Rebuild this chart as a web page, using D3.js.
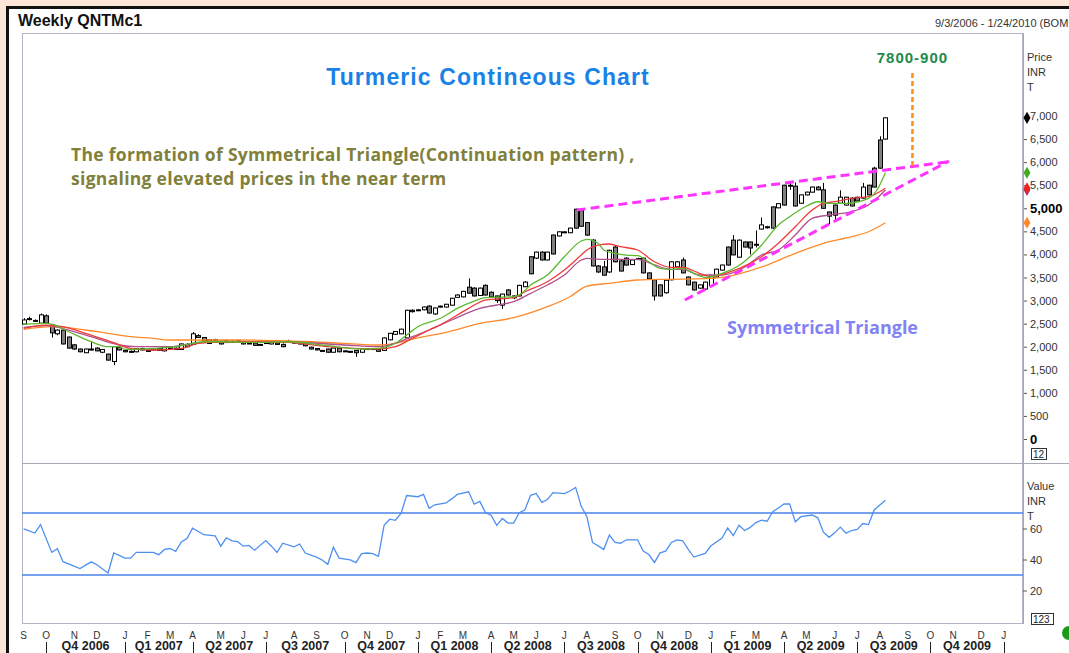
<!DOCTYPE html>
<html>
<head>
<meta charset="utf-8">
<script src="https://cdn.jsdelivr.net/npm/d3@7/dist/d3.min.js"></script>
<style>
  body { margin: 0; background: #fbe6d8; }
  svg { display: block; font-family: "Liberation Sans", Arial, sans-serif; }
</style>
</head>
<body>
<script>
// weekly bars, the first one is the week of 9/3/2006
const firstWeek = new Date(2006, 8, 3)

const opens = [
  2490, 2600, 2560, 2510, 2670, 2470, 2280, 2360, 2210, 2040,
  1950, 1870, 1940, 1970, 1880, 1840, 1680, 1990, 1920, 1900,
  1890, 1960, 1920, 1930, 1960, 1910, 1980, 1970, 1940, 2050,
  2050, 2240, 2200, 2150, 2150, 2120, 2130, 2100, 2100, 2100,
  2070, 2080, 2050, 2080, 2060, 2080, 2050, 2110, 2100, 2080,
  2080, 1990, 1960, 1920, 1950, 1880, 1970, 1910, 1900, 1920,
  1880, 1960, 1960, 1940, 1920, 2150, 2270, 2280, 2190, 2790,
  2790, 2800, 2880, 2710, 2860, 2860, 2900, 3070, 3080, 3290,
  3270, 3110, 3330, 3180, 3100, 2900, 3230, 3100, 3100, 3300,
  3950, 3920, 4050, 3880, 4420, 4400, 4480, 4470, 4980, 4950,
  4690, 4310, 3750, 3730, 3620, 4160, 3860, 3920, 3780, 3910,
  3920, 3600, 3450, 3340, 3170, 3450, 3730, 3880, 3510, 3400,
  3270, 3250, 3320, 3510, 3660, 4160, 4310, 3940, 4270, 4270,
  4200, 4550, 4580, 5030, 5010, 5500, 5500, 5480, 5110, 5290,
  5350, 5460, 5400, 4920, 5070, 5110, 5070, 5220, 5240, 5220,
  5500, 5870, 6480, 6500
]
const highs = [
  2620, 2650, 2590, 2720, 2700, 2480, 2380, 2370, 2220, 2060,
  1960, 1960, 2100, 1990, 1950, 1850, 2010, 2020, 1950, 1920,
  1970, 1980, 1940, 1970, 1970, 1990, 1990, 1980, 2070, 2080,
  2320, 2270, 2210, 2160, 2170, 2130, 2150, 2140, 2140, 2110,
  2090, 2090, 2060, 2100, 2110, 2090, 2070, 2150, 2110, 2090,
  2100, 2000, 1970, 1930, 1960, 1980, 1980, 1920, 1910, 1930,
  1960, 1970, 1970, 1950, 2200, 2300, 2340, 2390, 2800, 2810,
  2820, 2870, 2900, 2850, 2890, 2930, 3060, 3140, 3210, 3480,
  3290, 3280, 3350, 3200, 3110, 3150, 3250, 3110, 3340, 3420,
  3960, 4060, 4070, 4060, 4430, 4500, 4500, 4580, 4990, 4990,
  4700, 4330, 3770, 3860, 4100, 4180, 3880, 3940, 3890, 3930,
  3930, 3610, 3460, 3350, 3460, 3850, 3860, 3930, 3520, 3410,
  3350, 3410, 3540, 3690, 3780, 4170, 4420, 4320, 4280, 4280,
  4520, 4800, 4620, 5040, 5110, 5510, 5550, 5560, 5300, 5360,
  5470, 5480, 5550, 4930, 5080, 5390, 5250, 5240, 5250, 5550,
  5510, 5900, 6560, 6970
]
const lows = [
  2470, 2570, 2540, 2490, 2490, 2200, 2250, 2050, 1960, 1930,
  1880, 1860, 1920, 1900, 1860, 1700, 1600, 1920, 1880, 1870,
  1880, 1920, 1890, 1920, 1910, 1900, 1960, 1930, 1930, 1990,
  2040, 2190, 2120, 2060, 2090, 2050, 2080, 2090, 2090, 2050,
  2060, 2020, 2030, 2070, 2050, 2040, 1990, 2100, 2070, 2050,
  2010, 1940, 1920, 1890, 1870, 1870, 1880, 1890, 1870, 1780,
  1870, 1940, 1930, 1890, 1910, 2140, 2260, 2270, 2180, 2740,
  2780, 2790, 2720, 2690, 2850, 2850, 2890, 3060, 3070, 3150,
  3090, 3100, 3110, 3070, 2950, 2820, 3110, 3030, 3090, 3290,
  3570, 3900, 3870, 3870, 4000, 4390, 4470, 4460, 4560, 4600,
  4400, 3740, 3600, 3540, 3600, 3830, 3630, 3760, 3770, 3880,
  3590, 3460, 3000, 3090, 3150, 3440, 3720, 3590, 3330, 3220,
  3250, 3240, 3310, 3500, 3650, 3760, 3980, 3930, 4150, 4000,
  4150, 4540, 4560, 4560, 5000, 5060, 5400, 5040, 5100, 5280,
  5340, 5390, 4990, 4650, 4750, 5100, 5060, 5040, 5150, 5210,
  5280, 5450, 5860, 6490
]
const closes = [
  2580, 2610, 2570, 2690, 2510, 2300, 2360, 2060, 1970, 1950,
  1890, 1950, 1950, 1910, 1940, 1710, 2000, 1930, 1890, 1880,
  1960, 1930, 1900, 1960, 1920, 1980, 1970, 1940, 2060, 2000,
  2280, 2200, 2130, 2070, 2100, 2060, 2090, 2120, 2130, 2060,
  2080, 2030, 2040, 2090, 2100, 2050, 2000, 2120, 2090, 2060,
  2020, 1950, 1930, 1900, 1880, 1970, 1890, 1900, 1880, 1870,
  1950, 1950, 1940, 1900, 2190, 2290, 2330, 2380, 2790, 2760,
  2800, 2860, 2730, 2840, 2880, 2920, 3050, 3120, 3200, 3160,
  3100, 3270, 3120, 3080, 3000, 3140, 3120, 3060, 3330, 3400,
  3580, 4050, 3880, 4050, 4010, 4490, 4490, 4570, 4570, 4610,
  4420, 3750, 3620, 3550, 4090, 3840, 3640, 3770, 3880, 3890,
  3600, 3470, 3100, 3100, 3440, 3840, 3840, 3600, 3340, 3230,
  3340, 3400, 3530, 3680, 3770, 3770, 3990, 4310, 4160, 4140,
  4220, 4640, 4600, 4570, 5100, 5070, 5480, 5050, 5290, 5350,
  5460, 5400, 5000, 4830, 4850, 5240, 5240, 5050, 5160, 5460,
  5290, 5460, 5870, 6960
]

// moving averages: [week, price]
const maGreen = [[0, 2486], [4, 2507], [5, 2492], [8, 2325], [12, 2108], [15, 2000], [17, 2000], [18, 1944],
  [23, 1965], [27, 2000], [29, 2052], [32, 2108], [36, 2108], [41, 2095], [47, 2108], [54, 2022], [60, 1950],
  [63, 1965], [66, 2074], [68, 2254], [70, 2434], [74, 2616], [77, 2832], [80, 2990], [82, 3062], [87, 3084],
  [88, 3120], [90, 3337], [93, 3554], [96, 3950], [99, 4291], [100, 4327], [102, 4241], [103, 4096], [105, 4024],
  [107, 3987], [109, 3972], [111, 3842], [113, 3699], [115, 3677], [117, 3699], [119, 3591], [121, 3504],
  [124, 3591], [127, 3760], [131, 4200], [134, 4637], [136, 4817], [139, 5049], [141, 5142], [143, 5108],
  [146, 5108], [150, 5216], [151.5, 5396], [153, 5771]]
const maRed = [[0, 2399], [4, 2470], [7, 2434], [11, 2291], [16, 2087], [19, 1965], [23, 1929], [28, 1965],
  [31, 2074], [35, 2108], [41, 2108], [47, 2095], [54, 2000], [63, 1950], [66, 2000], [69, 2182], [72, 2362],
  [75, 2542], [79, 2832], [82, 3012], [87, 3062], [89, 3192], [93, 3409], [96, 3662], [99, 3987], [100, 4096],
  [102, 4204], [104, 4226], [106, 4167], [109, 4096], [112, 3842], [115, 3721], [117, 3721], [120, 3591],
  [122, 3517], [125, 3604], [129, 3807], [131, 3950], [134, 4241], [137, 4601], [140, 4962], [142, 5108],
  [144, 5142], [147, 5216], [150, 5251], [153, 5433]]
const maPurple = [[0, 2421], [4, 2455], [8, 2362], [12, 2217], [17, 2037], [20, 2000], [26, 2000], [31, 2087],
  [35, 2102], [47, 2102], [57, 2037], [63, 2000], [69, 2217], [72, 2362], [76, 2579], [81, 2832], [84, 2904],
  [87, 2975], [90, 3157], [93, 3337], [96, 3554], [99, 3879], [100, 3916], [103, 3894], [106, 3894], [109, 3894],
  [112, 3771], [115, 3677], [117, 3677], [120, 3554], [124, 3554], [128, 3721], [131, 3987], [134, 4096],
  [137, 4421], [140, 4783], [143, 4854], [147, 4926], [150, 5071], [153, 5396]]
const maOrange = [[0, 2377], [5, 2434], [11, 2362], [15, 2291], [19, 2217], [23, 2182], [26, 2145], [32, 2145],
  [38, 2145], [47, 2124], [57, 2074], [63, 2037], [66, 2074], [69, 2167], [75, 2312], [81, 2507], [87, 2629],
  [93, 2867], [97, 3084], [100, 3315], [104, 3374], [109, 3446], [115, 3461], [121, 3474], [124, 3504],
  [127, 3580], [132, 3770], [137, 4024], [142, 4241], [147, 4384], [150, 4492], [153, 4687]]

// RSI line vertices: [week, value]
const rsi = [[0, 59.7], [2, 57.1], [3, 62.5], [5, 44.6], [6, 46.9], [7, 38.6], [10, 34.2], [12, 38.5], [13, 36.6],
  [15, 31.3], [16, 44.2], [18, 40.9], [19, 40.9], [20, 44.6], [23, 44.6], [24, 43.1], [25, 46.5], [26, 47.1],
  [27, 45.3], [28, 51.3], [29, 53.5], [30, 60.2], [32, 56], [34, 55.3], [35, 48.6], [36, 54], [37, 52], [38, 51.5],
  [39, 48.6], [40, 49.1], [41, 46], [43, 52.2], [44, 48.6], [45, 44.6], [46, 50.5], [48, 48.2], [49, 50], [50, 44.2],
  [52, 41.5], [53, 39.7], [54, 36.9], [55, 48], [56, 40.9], [58, 39.7], [59, 38], [60, 43.8], [61, 44.2], [62, 43.8],
  [63, 42], [64, 62], [65, 66], [66, 65.3], [67, 69.7], [68, 81.3], [70, 80.5], [71, 82], [72, 73.1], [73, 75.3],
  [75, 76.5], [76, 79.1], [77, 82], [79, 83.7], [80, 75.7], [81, 77.5], [82, 70.2], [83, 68.6], [84, 62], [85, 66.5],
  [86, 63.5], [87, 63.5], [88, 70.2], [89, 72], [90, 81.4], [91, 82.6], [92, 76.9], [93, 78.7], [94, 83.1], [96, 82.5],
  [97, 84.2], [98, 86.5], [99, 74.3], [100, 67.6], [101, 51], [103, 46.5], [104, 55.8], [105, 51], [106, 50.5],
  [107, 52.7], [109, 52.7], [110, 45.4], [111, 43.2], [112, 38.1], [113, 44.3], [114, 45.4], [115, 51], [116, 52.7],
  [117, 52.1], [118, 46.5], [119, 41.6], [121, 43.9], [122, 48.7], [124, 53.8], [125, 60.3], [126, 55.4], [127, 62.1],
  [128, 58.7], [129, 60.7], [130, 63.8], [131, 65.4], [132, 64.7], [133, 70.9], [134, 73.2], [135, 75.8], [136, 75.8],
  [137, 64.3], [138, 67.6], [140, 68.7], [141, 66.9], [142, 57.6], [143, 54.3], [144, 57.2], [145, 60.9], [146, 57],
  [147, 58.7], [148, 59.4], [149, 63.2], [150, 62.5], [151, 72], [153, 78.3]]
const rsiBands = [70, 30]

// triangle and target drawn on the chart: [week, price]
const upperTrend = [[98.2, 4962], [164.3, 6009]]
const lowerTrend = [[117.4, 3012], [164.3, 6024]]
const targetLine = [[157.8, 5916], [157.8, 7931]]

const priceTicks = d3.range(0, 7001, 500)
const rsiTicks = [20, 40, 60]
const monthLetters = "JFMAMJJASOND"

const width = 1069, height = 653

const weekDate = w => new Date(firstWeek.getTime() + w * 7 * 864e5)

const x = d3.scaleTime()
  .domain([new Date(2006, 8, 1), new Date(2010, 0, 27)])
  .range([22, 1023])
const y = d3.scaleLinear().domain([0, 7000]).range([439, 116])
const yRsi = d3.scaleLinear().domain([0, 100]).range([621.5, 466.5])

const svg = d3.select("body")
  .append("svg")
  .attr("width", width)
  .attr("height", height)

// window frame
svg.append("rect")
  .attr("x", 7.5).attr("y", 7.5)
  .attr("width", width + 10).attr("height", height + 10)
  .attr("fill", "#fff")
  .attr("stroke", "#111")
  .attr("stroke-width", 3)

svg.append("text")
  .attr("x", 18).attr("y", 26)
  .attr("font-size", 16).attr("font-weight", "bold")
  .attr("fill", "#111")
  .text("Weekly QNTMc1")

svg.append("text")
  .attr("x", 935).attr("y", 27)
  .attr("font-size", 11)
  .attr("fill", "#333")
  .text("9/3/2006 - 1/24/2010 (BOM")

// panels
svg.append("rect")
  .attr("x", 22.5).attr("y", 33.5)
  .attr("width", 1000).attr("height", 590)
  .attr("fill", "none")
  .attr("stroke", "#b4b4c4")
svg.append("line")
  .attr("x1", 22).attr("x2", width)
  .attr("y1", 463.5).attr("y2", 463.5)
  .attr("stroke", "#a8a8b4")

// candles
const idx = d3.range(opens.length)
const cx = i => Math.round(x(weekDate(i))) + 0.5

const candle = svg.append("g")
  .selectAll("g")
  .data(idx)
  .join("g")

candle.append("line")
  .attr("x1", cx).attr("x2", cx)
  .attr("y1", i => y(highs[i]))
  .attr("y2", i => y(lows[i]))
  .attr("stroke", "#000")

candle.append("rect")
  .attr("x", i => cx(i) - 2)
  .attr("width", 4)
  .attr("y", i => y(Math.max(opens[i], closes[i])))
  .attr("height", i => Math.max(1, Math.abs(y(opens[i]) - y(closes[i]))))
  .attr("fill", i => closes[i] >= opens[i] ? "#fff" : "#7f7f7f")
  .attr("stroke", "#000")

// moving averages
const maLine = d3.line()
  .x(d => x(weekDate(d[0])))
  .y(d => y(d[1]))
  .curve(d3.curveMonotoneX)

const averages = [
  { data: maOrange, color: "#ff8a2a" },
  { data: maPurple, color: "#b0508c" },
  { data: maRed, color: "#f03a3a" },
  { data: maGreen, color: "#5cb82e" }
]
svg.append("g")
  .selectAll("path")
  .data(averages)
  .join("path")
  .attr("d", d => maLine(d.data))
  .attr("fill", "none")
  .attr("stroke", d => d.color)
  .attr("stroke-width", 1.3)

// triangle
const straight = d3.line()
  .x(d => x(weekDate(d[0])))
  .y(d => y(d[1]))

svg.append("g")
  .selectAll("path")
  .data([upperTrend, lowerTrend])
  .join("path")
  .attr("d", straight)
  .attr("fill", "none")
  .attr("stroke", "#ff33ff")
  .attr("stroke-width", 3)
  .attr("stroke-dasharray", "9,5")

svg.append("path")
  .attr("d", straight(targetLine))
  .attr("fill", "none")
  .attr("stroke", "#ff8c1a")
  .attr("stroke-width", 2.5)
  .attr("stroke-dasharray", "5,3")

// price axis
const priceAxis = svg.append("g")
  .attr("transform", "translate(1023,0)")
  .call(d3.axisRight(y).tickValues(priceTicks).tickFormat(d3.format(",")).tickSize(4).tickPadding(3))
priceAxis.select(".domain").remove()
priceAxis.selectAll("line").attr("stroke", "#555")
priceAxis.selectAll("text")
  .attr("font-family", null)
  .attr("font-size", 11)
  .attr("fill", "#333")
priceAxis.selectAll(".tick")
  .filter(d => d === 5000 || d === 0)
  .select("text")
  .attr("font-size", 13)
  .attr("font-weight", "bold")
  .attr("fill", "#000")

svg.append("line")
  .attr("x1", 1023.5).attr("x2", 1023.5)
  .attr("y1", 33).attr("y2", 624)
  .attr("stroke", "#a8a8b4")

const axisLabel = (lines, top) => {
  svg.append("g")
    .selectAll("text")
    .data(lines)
    .join("text")
    .attr("x", 1027)
    .attr("y", (d, i) => top + i * 15)
    .attr("font-size", 11)
    .attr("fill", "#333")
    .text(d => d)
}
axisLabel(["Price", "INR", "T"], 61)
axisLabel(["Value", "INR", "T"], 490)

const valueBox = (label, top, w) => {
  svg.append("rect")
    .attr("x", 1031.5).attr("y", top + 0.5)
    .attr("width", w).attr("height", 11)
    .attr("fill", "#fff")
    .attr("stroke", "#333")
  svg.append("text")
    .attr("x", 1033).attr("y", top + 10)
    .attr("font-size", 10)
    .attr("fill", "#222")
    .text(label)
}
valueBox("12", 448, 15)
valueBox("123", 613, 22)

// last values on the axis
const markers = [
  { v: maOrange[maOrange.length - 1][1], color: "#ff8a2a" },
  { v: maPurple[maPurple.length - 1][1], color: "#9a3f80" },
  { v: maRed[maRed.length - 1][1], color: "#ee2222" },
  { v: maGreen[maGreen.length - 1][1], color: "#44aa22" },
  { v: closes[closes.length - 1], color: "#000" }
]
svg.append("g")
  .selectAll("path")
  .data(markers)
  .join("path")
  .attr("transform", d => `translate(1027,${y(d.v)})`)
  .attr("d", d3.symbol(d3.symbolDiamond).size(42))
  .attr("fill", d => d.color)

// rsi panel
svg.append("g")
  .selectAll("path")
  .data(rsiBands)
  .join("path")
  .attr("d", d => `M22,${yRsi(d)}H1023`)
  .attr("fill", "none")
  .attr("stroke", "#4a82ea")
  .attr("stroke-width", 1.5)

svg.append("path")
  .attr("d", d3.line().x(d => x(weekDate(d[0]))).y(d => yRsi(d[1]))(rsi))
  .attr("fill", "none")
  .attr("stroke", "#4d90f2")
  .attr("stroke-width", 1.3)

const rsiAxis = svg.append("g")
  .attr("transform", "translate(1023,0)")
  .call(d3.axisRight(yRsi).tickValues(rsiTicks).tickSize(4).tickPadding(3))
rsiAxis.select(".domain").remove()
rsiAxis.selectAll("line").attr("stroke", "#555")
rsiAxis.selectAll("text")
  .attr("font-family", null)
  .attr("font-size", 11)
  .attr("fill", "#333")

// time axis
const months = d3.timeMonth.range(new Date(2006, 8, 1), new Date(2010, 1, 1))
  .map(m => d3.timeSunday.ceil(m))
svg.append("g")
  .selectAll("text")
  .data(months)
  .join("text")
  .attr("x", d => x(d))
  .attr("y", 639)
  .attr("text-anchor", "middle")
  .attr("font-size", 10)
  .attr("fill", "#333")
  .text(d => monthLetters[d.getMonth()])

const quarterStarts = months.filter(d => d.getMonth() % 3 === 0)
svg.append("g")
  .selectAll("line")
  .data(quarterStarts)
  .join("line")
  .attr("x1", d => Math.round(x(d)) + 0.5)
  .attr("x2", d => Math.round(x(d)) + 0.5)
  .attr("y1", 642).attr("y2", 653)
  .attr("stroke", "#222")

svg.append("g")
  .selectAll("text")
  .data(d3.pairs(quarterStarts))
  .join("text")
  .attr("x", d => (x(d[0]) + x(d[1])) / 2)
  .attr("y", 650)
  .attr("text-anchor", "middle")
  .attr("font-size", 12.5)
  .attr("font-weight", "bold")
  .attr("fill", "#222")
  .text(d => `Q${Math.floor(d[0].getMonth() / 3) + 1} ${d[0].getFullYear()}`)

svg.append("circle")
  .attr("cx", 1069).attr("cy", 633).attr("r", 7)
  .attr("fill", "#1a9a1a")

// annotations
svg.append("text")
  .attr("x", 488).attr("y", 85)
  .attr("text-anchor", "middle")
  .attr("font-size", 23).attr("font-weight", "bold")
  .attr("letter-spacing", 1.1)
  .attr("fill", "#1a82e6")
  .text("Turmeric Contineous Chart")

svg.append("g")
  .selectAll("text")
  .data(["The formation of Symmetrical Triangle(Continuation pattern) ,",
    "signaling elevated prices in the near term"])
  .join("text")
  .attr("x", 71)
  .attr("y", (d, i) => 161 + i * 24)
  .attr("font-family", "'Open Sans', Lato, sans-serif")
  .attr("font-size", 17.5).attr("font-weight", "bold")
  .attr("letter-spacing", 0.3)
  .attr("fill", "#80803a")
  .text(d => d)

svg.append("text")
  .attr("x", 727).attr("y", 334)
  .attr("font-family", "'Open Sans', Lato, sans-serif")
  .attr("font-size", 18).attr("font-weight", "bold")
  .attr("fill", "#8282f5")
  .text("Symmetrical Triangle")

svg.append("text")
  .attr("x", x(weekDate(targetLine[0][0]))).attr("y", 63)
  .attr("text-anchor", "middle")
  .attr("font-size", 15).attr("font-weight", "bold")
  .attr("letter-spacing", 1)
  .attr("fill", "#1d8a4a")
  .text("7800-900")
</script>
</body>
</html>
